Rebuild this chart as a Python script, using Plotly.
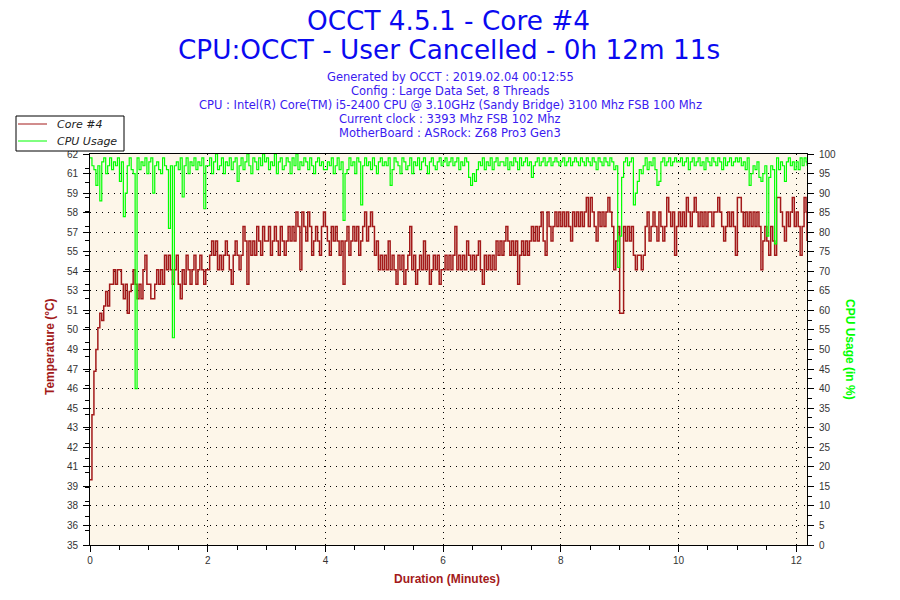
import plotly.graph_objects as go

# ---------------- data ----------------
# samples every 2 seconds (in minutes), last sample at 12m 11s
duration_min = [i / 30 for i in range(366)] + [12.183]

temp_c = [
    # minute 0
    39.5, 44, 47, 48.5, 50, 51, 50.5, 51.5, 52.5, 51.5, 53, 53, 54, 53, 54,
    54, 53, 52, 53, 51, 52.5, 53, 54, 53, 52, 53, 52, 54, 55, 53,
    # minute 1
    53, 52, 52, 53, 54, 53, 54, 53, 55, 54, 55, 54, 53, 54, 55,
    53, 52, 54, 53, 55, 54, 53, 54, 55, 53, 54, 55, 54, 53, 54,
    # minute 2
    54, 55, 56, 55, 56, 54, 55, 54, 55, 56, 55, 54, 53, 55, 56,
    55, 54, 55, 57, 56, 53, 56, 55, 56, 55, 57, 56, 55, 57, 56,
    # minute 3
    56, 57, 55, 56, 57, 56, 55, 57, 56, 55, 56, 57, 56, 57, 56,
    58, 57, 54, 58, 57, 56, 58, 57, 55, 56, 57, 56, 55, 57, 58,
    # minute 4
    57, 56, 55, 57, 56, 57, 56, 55, 56, 53, 56, 57, 55, 56, 57,
    56, 57, 55, 56, 57, 58, 56, 57, 58, 57, 55, 56, 54, 55, 54,
    # minute 5
    55, 54, 56, 54, 55, 54, 53, 55, 54, 55, 53, 54, 55, 57, 54,
    55, 53, 54, 55, 54, 56, 54, 55, 53, 54, 55, 54, 55, 53, 54,
    # minute 6
    54, 55, 54, 55, 54, 55, 57, 54, 55, 54, 55, 54, 56, 55, 54,
    55, 54, 55, 56, 54, 53, 55, 54, 55, 54, 55, 54, 56, 55, 56,
    # minute 7
    55, 56, 57, 56, 55, 56, 55, 56, 53, 55, 56, 55, 56, 55, 56,
    57, 56, 57, 56, 57, 58, 56, 55, 58, 57, 56, 57, 58, 57, 58,
    # minute 8
    57, 58, 57, 58, 57, 56, 58, 57, 58, 57, 58, 57, 58, 59, 57,
    59, 58, 57, 56, 58, 57, 58, 57, 58, 59, 58, 57, 54, 56, 57,
    # minute 9
    51, 51, 57, 56, 57, 56, 57, 55, 54, 55, 55, 54, 55, 57, 58,
    56, 57, 58, 57, 56, 58, 57, 56, 57, 59, 58, 57, 58, 55, 57,
    # minute 10
    58, 57, 58, 57, 59, 58, 57, 58, 59, 58, 57, 58, 57, 58, 57,
    58, 58, 57, 58, 58, 59, 58, 57, 56, 57, 58, 57, 58, 57, 55,
    # minute 11
    59, 59, 58, 57, 58, 57, 58, 57, 58, 57, 58, 57, 54, 56, 57,
    56, 55, 57, 56, 55, 59, 59, 58, 57, 56, 58, 57, 58, 59, 57,
    # minute 12
    58, 57, 55, 57, 59, 58, 56,
]

cpu_pct = [
    # minute 0
    99, 97, 96, 92, 97, 88, 98, 99, 95, 97, 99, 96, 98, 97, 99,
    93, 98, 84, 90, 97, 99, 96, 95, 40, 99, 96, 98, 97, 99, 95,
    # minute 1
    98, 99, 90, 97, 98, 96, 95, 99, 97, 96, 81, 97, 53, 97, 98,
    96, 99, 89, 97, 99, 95, 98, 97, 99, 96, 98, 97, 99, 86, 97,
    # minute 2
    97, 99, 95, 98, 100, 96, 97, 99, 95, 98, 97, 99, 96, 98, 99,
    93, 97, 99, 96, 98, 100, 97, 95, 99, 98, 96, 99, 97, 100, 98,
    # minute 3
    99, 96, 98, 97, 100, 95, 98, 99, 96, 97, 99, 98, 95, 99, 97,
    100, 96, 98, 97, 99, 98, 96, 99, 97, 95, 98, 99, 97, 98, 96,
    # minute 4
    96, 98, 97, 99, 95, 97, 99, 96, 98, 83, 95, 96, 99, 97, 98,
    95, 99, 98, 87, 97, 99, 97, 98, 96, 99, 97, 95, 98, 99, 97,
    # minute 5
    98, 97, 99, 92, 96, 99, 98, 97, 95, 99, 98, 96, 97, 99, 95,
    98, 97, 99, 96, 98, 99, 97, 95, 98, 99, 97, 96, 98, 99, 97,
    # minute 6
    98, 99, 97, 98, 99, 97, 98, 99, 96, 98, 97, 99, 98, 94, 92,
    95, 93, 96, 98, 97, 99, 96, 98, 97, 99, 96, 98, 99, 97, 98,
    # minute 7
    98, 97, 99, 96, 98, 97, 99, 98, 96, 99, 97, 98, 99, 97, 98,
    94, 97, 98, 99, 97, 98, 99, 97, 98, 99, 97, 98, 99, 98, 97,
    # minute 8
    98, 99, 97, 98, 99, 97, 98, 99, 98, 97, 99, 98, 97, 99, 98,
    97, 99, 98, 96, 99, 98, 97, 99, 98, 97, 99, 98, 96, 97, 71,
    # minute 9
    79, 94, 98, 99, 97, 98, 99, 87, 90, 93, 96, 95, 97, 99, 96,
    98, 97, 99, 96, 92, 93, 98, 99, 97, 98, 99, 97, 98, 99, 98,
    # minute 10
    98, 99, 97, 98, 99, 96, 98, 99, 97, 98, 99, 97, 98, 96, 99,
    98, 97, 99, 98, 97, 99, 98, 96, 99, 97, 98, 99, 97, 98, 99,
    # minute 11
    98, 99, 97, 98, 96, 99, 92, 95, 97, 96, 98, 94, 93, 95, 97,
    79, 94, 97, 96, 77, 99, 96, 98, 97, 93, 98, 99, 97, 98, 96,
    # minute 12
    98, 96, 99, 97, 99, 98, 97,
]

series_names = ["Core #4", "CPU Usage"]

temp_tick_vals = [35 + k * 1.35 for k in range(21)]
temp_tick_text = ["35", "36", "38", "39", "41", "42", "43", "45", "46", "47", "49",
                  "50", "51", "53", "54", "55", "57", "58", "59", "61", "62"]
x_tick_vals = [0, 2, 4, 6, 8, 10, 12]

title_line1 = "OCCT 4.5.1 - Core #4"
title_line2 = "CPU:OCCT - User Cancelled - 0h 12m 11s"
info_lines = [
    "Generated by OCCT : 2019.02.04 00:12:55",
    "Config : Large Data Set, 8 Threads",
    "CPU : Intel(R) Core(TM) i5-2400 CPU @ 3.10GHz (Sandy Bridge) 3100 Mhz FSB 100 Mhz",
    "Current clock : 3393 Mhz FSB 102 Mhz",
    "MotherBoard : ASRock: Z68 Pro3 Gen3",
]

# ---------------- layout helpers ----------------
L, R, T, B = 90, 807, 154, 545
def px(X):
    return (X - L) / (R - L)
def py(Y):
    return (B - Y) / (B - T)

RED = "#A31A1A"
GREEN = "#00FF00"
DOT = "1px,5px"
colors = [RED, GREEN]

fig = go.Figure()
fig.add_trace(go.Scatter(x=duration_min, y=temp_c, name=series_names[0], mode="lines",
                         line=dict(color=RED, width=1.5, shape="hv"), yaxis="y"))
fig.add_trace(go.Scatter(x=duration_min, y=cpu_pct, name=series_names[1], mode="lines",
                         line=dict(color=GREEN, width=1.2, shape="hv"), yaxis="y2"))

tickfont = dict(family="Liberation Sans", size=10, color="#333333")

annotations = [
    dict(text=title_line1, x=0.5, xref="paper", y=py(21), yref="paper", showarrow=False,
         font=dict(family="DejaVu Sans", size=26.3, color="#0A0AF0"), xanchor="center", yanchor="middle"),
    dict(text=title_line2, x=0.5, xref="paper", y=py(50), yref="paper", showarrow=False,
         font=dict(family="DejaVu Sans", size=26.3, color="#0A0AF0"), xanchor="center", yanchor="middle"),
]
for k, line in enumerate(info_lines):
    annotations.append(dict(text=line, x=px(450), xref="paper", y=py(77 + 14 * k), yref="paper",
                            showarrow=False, xanchor="center", yanchor="middle",
                            font=dict(family="DejaVu Sans", size=11.5, color="#3A1AF0")))
annotations += [
    dict(text="<b>Temperature (°C)</b>", x=px(50), xref="paper", y=py(347), yref="paper",
         textangle=-90, showarrow=False, xanchor="center", yanchor="middle",
         font=dict(family="Liberation Sans", size=12, color=RED)),
    dict(text="<b>CPU Usage (in %)</b>", x=px(850), xref="paper", y=py(349), yref="paper",
         textangle=90, showarrow=False, xanchor="center", yanchor="middle",
         font=dict(family="Liberation Sans", size=12, color=GREEN)),
    dict(text="<b>Duration (Minutes)</b>", x=px(447), xref="paper", y=py(579), yref="paper",
         showarrow=False, xanchor="center", yanchor="middle",
         font=dict(family="Liberation Sans", size=12, color=RED)),
]

# legend box (drawn as shapes + text, compact like the original)
shapes = [dict(type="rect", xref="paper", yref="paper", x0=px(16), x1=px(124), y0=py(151), y1=py(116),
               line=dict(color="black", width=1), fillcolor="white", layer="above")]
for k, (name, col) in enumerate(zip(series_names, colors)):
    yy = 124 + 17 * k
    shapes.append(dict(type="line", xref="paper", yref="paper", x0=px(18), x1=px(47),
                       y0=py(yy), y1=py(yy), line=dict(color=col, width=1), layer="above"))
    annotations.append(dict(text=name, x=px(55), xref="paper", y=py(yy), yref="paper",
                            showarrow=False, xanchor="left", yanchor="middle",
                            font=dict(family="DejaVu Sans", size=11, color="#222222", style="italic")))

fig.update_layout(
    width=900, height=600,
    margin=dict(l=L, r=900 - R, t=T, b=600 - B, pad=0, autoexpand=False),
    paper_bgcolor="white", plot_bgcolor="#FDF6E9",
    showlegend=False,
    annotations=annotations,
    shapes=shapes,
    xaxis=dict(range=[0, 12.183], tickmode="array", tickvals=x_tick_vals,
               ticks="outside", ticklen=6, tickcolor="black", tickwidth=1,
               showline=True, linecolor="black", linewidth=1, mirror=True,
               showgrid=True, gridcolor="black", gridwidth=1, griddash=DOT,
               zeroline=False, tickfont=tickfont,
               minor=dict(tickmode="linear", tick0=0, dtick=0.5, ticks="outside",
                          ticklen=4, tickcolor="black", showgrid=False)),
    yaxis=dict(range=[35, 62], tickmode="array", tickvals=temp_tick_vals, ticktext=temp_tick_text,
               ticks="outside", ticklen=6, tickcolor="black", tickwidth=1,
               showline=True, linecolor="black", linewidth=1,
               showgrid=True, gridcolor="black", gridwidth=1, griddash=DOT,
               zeroline=False, tickfont=tickfont, ticklabelstandoff=3,
               minor=dict(tickmode="linear", tick0=35, dtick=1, ticks="outside",
                          ticklen=4, tickcolor="black", showgrid=False)),
    yaxis2=dict(range=[0, 100], overlaying="y", side="right", tickmode="linear", tick0=0, dtick=5,
                ticks="outside", ticklen=6, tickcolor="black", tickwidth=1,
                showline=True, linecolor="black", linewidth=1,
                showgrid=False, zeroline=False, tickfont=tickfont, ticklabelstandoff=3,
                minor=dict(tickmode="linear", tick0=0, dtick=2.5, ticks="outside",
                           ticklen=4, tickcolor="black", showgrid=False)),
)

fig.write_html("out.html", config={"displayModeBar": False},
               post_script="document.body.style.margin='0px';")
